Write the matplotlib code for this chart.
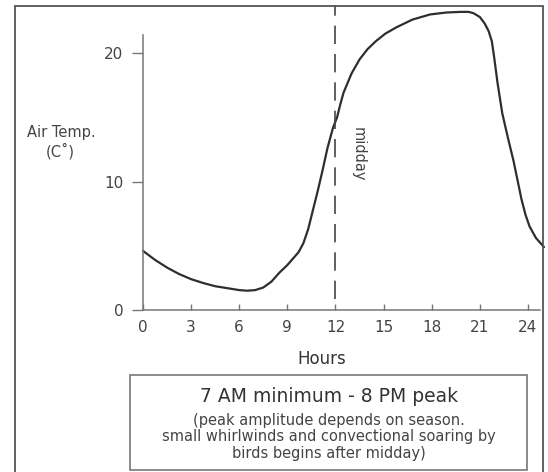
import matplotlib
matplotlib.use("Agg")
import matplotlib.pyplot as plt
from matplotlib.patches import Rectangle

# Data
hours = [0, 0.75, 1.5, 2.25, 3, 3.75, 4.5, 5.25, 6, 6.5, 7, 7.5, 8.0, 8.5, 9.0,
         9.35, 9.7, 10.0, 10.3, 10.6, 10.9, 11.2, 11.5, 11.85, 12.1, 12.3, 12.5,
         13.0, 13.5, 14.0, 14.5, 15.1, 15.8, 16.8, 17.9, 18.9, 19.8, 20.3, 20.6,
         21.0, 21.3, 21.55, 21.75, 21.9, 22.1, 22.4, 22.75, 23.1, 23.35, 23.6,
         23.85, 24.1, 24.5, 25.0]
temps = [4.6, 3.9, 3.3, 2.8, 2.4, 2.1, 1.85, 1.7, 1.55, 1.5, 1.55, 1.75, 2.2, 2.9, 3.5,
         4.0, 4.5, 5.2, 6.3, 7.8, 9.3, 10.9, 12.6, 14.2, 15.0, 16.0, 16.9,
         18.4, 19.5, 20.3, 20.9, 21.5, 22.0, 22.6, 23.0, 23.15, 23.2, 23.2, 23.1,
         22.8, 22.3, 21.7, 20.9, 19.6, 17.7, 15.3, 13.4, 11.6, 10.1, 8.6,
         7.4, 6.5, 5.6, 4.9]
xticks = [0, 3, 6, 9, 12, 15, 18, 21, 24]
yticks = [0, 10, 20]
midday = 12
title_line = "7 AM minimum - 8 PM peak"
note_lines = "(peak amplitude depends on season.\nsmall whirlwinds and convectional soaring by\nbirds begins after midday)"

W, H = 548, 472
fig = plt.figure(figsize=(W / 100, H / 100), dpi=100)
fig.patch.set_facecolor("white")

def fx(px):
    return px / W

def fy(py):
    return 1 - py / H

ax = fig.add_axes([fx(143), fy(310), fx(544) - fx(143), fy(5) - fy(310)])
ax.set_xlim(0, 25)
ax.set_ylim(0, (310 - 5) / 12.85)
ax.patch.set_alpha(0)

ax.plot(hours, temps, color="#2e2e2e", lw=1.6, solid_joinstyle="round",
        solid_capstyle="round", clip_on=False)
ax.plot([midday, midday], [0.85, (310 - 5) / 12.85], color="#444444", lw=1.2,
        dashes=[11, 6], clip_on=False)

for s in ["top", "right"]:
    ax.spines[s].set_visible(False)
ax.spines["left"].set_bounds(0, 21.4)
ax.spines["bottom"].set_bounds(0, 24.75)
for s in ["left", "bottom"]:
    ax.spines[s].set_color("#777777")
    ax.spines[s].set_linewidth(1.1)

ax.set_xticks(xticks)
ax.set_yticks(yticks)
ax.tick_params(axis="x", direction="in", length=4, width=1, color="#777777",
               labelsize=11, labelcolor="#444444", pad=7)
ax.tick_params(axis="y", direction="out", length=8, width=1, color="#777777",
               labelsize=11, labelcolor="#444444", pad=6)

ax.text(13.4, 12.1, "midday", rotation=-90, ha="center", va="center",
        fontsize=10.5, color="#444444")

fig.text(fx(61), fy(133), "Air Temp.", ha="center", va="center", fontsize=10.5, color="#444444")
fig.text(fx(60), fy(151), "(C˚)", ha="center", va="center", fontsize=10.5, color="#444444")
fig.text(fx(322), fy(359), "Hours", ha="center", va="center", fontsize=12, color="#333333")

fig.add_artist(Rectangle((fx(130), fy(470)), fx(527) - fx(130), fy(375) - fy(470),
                         transform=fig.transFigure, fill=False, ec="#777777", lw=1.2))
fig.text(fx(329), fy(397), title_line, ha="center", va="center", fontsize=13.5, color="#333333")
fig.text(fx(329), fy(437), note_lines, ha="center", va="center", fontsize=10.5,
         color="#444444", linespacing=1.1)

fig.add_artist(Rectangle((fx(14.5), -0.2), fx(543) - fx(14.5), fy(5.5) + 0.2,
                         transform=fig.transFigure, fill=False, ec="#555555", lw=1.3))

fig.savefig("out.png", dpi=100)
